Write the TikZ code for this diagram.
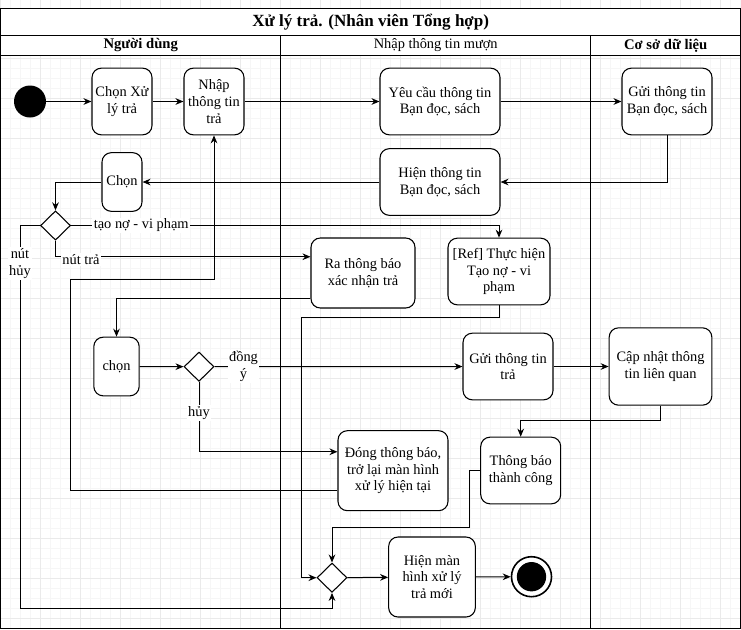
\documentclass[tikz,border=0pt]{standalone}
\usepackage{fontspec}
\setmainfont{Liberation Serif}
\usetikzlibrary{arrows.meta,shapes.geometric}

\definecolor{gridminor}{HTML}{F6F6F6}
\definecolor{gridmajor}{HTML}{EAEAEA}

\begin{document}
\begin{tikzpicture}[
  x=0.75pt, y=-0.75pt,
  every node/.style={font=\fontsize{10.8pt}{12.6pt}\selectfont},
  actbox/.style={
    rectangle, rounded corners=7pt,
    draw=black, line width=0.8pt, fill=white,
    align=center, inner sep=1pt
  },
  decision/.style={
    diamond, draw=black, line width=0.8pt, fill=white,
    minimum width=22.5pt, minimum height=22pt, inner sep=0pt
  },
  lanetext/.style={font=\fontsize{10.8pt}{12.6pt}\selectfont},
  lbl/.style={fill=white, inner sep=1pt, align=center},
  flow/.style={
    -{Stealth[length=6pt,width=5pt]}, line width=0.75pt, black
  },
]
\useasboundingbox (0,0) rectangle (741,629);

% --- Grid ---
\foreach \i in {0,...,74}
  \draw[gridminor, line width=0.5pt] (\i*10+0.7,0) -- (\i*10+0.7,629);
\foreach \j in {0,...,62}
  \draw[gridminor, line width=0.5pt] (0,\j*10+8.3) -- (741,\j*10+8.3);
\foreach \i in {0,...,18}
  \draw[gridmajor, line width=0.6pt] (\i*40+0.7,0) -- (\i*40+0.7,629);
\foreach \j in {0,...,15}
  \draw[gridmajor, line width=0.6pt] (0,\j*40+18.3) -- (741,\j*40+18.3);

% --- Swimlanes ---
\fill[white] (0.7,8.3) rectangle (740.7,55.3);
\draw[line width=0.8pt] (0.7,8.3) rectangle (740.7,628.3);
\draw[line width=0.8pt] (0.7,35.3) -- (740.7,35.3);
\draw[line width=0.8pt] (0.7,55.3) -- (740.7,55.3);
\draw[line width=0.8pt] (280.7,35.3) -- (280.7,628.3);
\draw[line width=0.8pt] (590.7,35.3) -- (590.7,628.3);

\node[font=\fontsize{12.8pt}{14pt}\selectfont\bfseries] (title) at (370.7,21.8)
  {Xử lý trả. (Nhân viên Tổng hợp)};
\node[lanetext, font=\fontsize{11pt}{13pt}\selectfont\bfseries] (lane1) at (140.7,45.3) {Người dùng};
\node[lanetext] (lane2) at (435.7,45.3) {Nhập thông tin mượn};
\node[lanetext, font=\fontsize{11pt}{13pt}\selectfont\bfseries] (lane3) at (665.7,45.3) {Cơ sở dữ liệu};

% --- Nodes ---
\node[circle, fill=black, minimum size=24pt, inner sep=0pt] (start) at (30,101.5) {};
\node[actbox, minimum width=45pt, minimum height=50pt] (chonxl) at (122,101.5) {Chọn Xử\\lý trả};
\node[actbox, minimum width=45pt, minimum height=50pt] (nhaptt) at (214,101.5) {Nhập\\thông tin\\trả};
\node[actbox, minimum width=90pt, minimum height=50pt] (yeucau) at (440,101.5) {Yêu cầu thông tin\\Bạn đọc, sách};
\node[actbox, minimum width=67.5pt, minimum height=50pt] (guibd) at (667,101.5) {Gửi thông tin\\Bạn đọc, sách};
\node[actbox, minimum width=90pt, minimum height=50pt] (hienbd) at (440,182) {Hiện thông tin\\Bạn đọc, sách};
\node[actbox, minimum width=30pt, minimum height=44pt] (chon1) at (122,182) {Chọn};
\node[decision] (dec1) at (55.5,225.5) {};
\node[actbox, minimum width=78pt, minimum height=52.5pt] (ra) at (363,273) {Ra thông báo\\xác nhận trả};
\node[actbox, minimum width=76.5pt, minimum height=50pt] (ref) at (499,271.5) {[Ref] Thực hiện\\Tạo nợ - vi\\phạm};
\node[actbox, minimum width=34pt, minimum height=44pt] (chon2) at (116.5,366.5) {chọn};
\node[decision] (dec2) at (199,366.7) {};
\node[actbox, minimum width=67.5pt, minimum height=50pt] (guitra) at (508,366.5) {Gửi thông tin\\trả};
\node[actbox, minimum width=77pt, minimum height=58pt] (capnhat) at (660.5,366.5) {Cập nhật thông\\tin liên quan};
\node[actbox, minimum width=82.5pt, minimum height=60pt] (dong) at (393,470.7) {Đóng thông báo,\\trở lại màn hình\\xử lý hiện tại};
\node[actbox, minimum width=60pt, minimum height=50pt] (tbtc) at (520.7,470.5) {Thông báo\\thành công};
\node[decision] (dec3) at (332,577.7) {};
\node[actbox, minimum width=65pt, minimum height=60pt] (hienmh) at (432,577) {Hiện màn\\hình xử lý\\trả mới};
\node[circle, draw=black, line width=1.2pt, fill=white, minimum size=30pt, inner sep=0pt,
  path picture={\fill[black] (path picture bounding box.center) circle (11pt);}] (endnode) at (531.5,576.7) {};

% --- Connectors ---
\draw[flow] (start) -- (chonxl);
\draw[flow] (chonxl) -- (nhaptt);
\draw[flow] (nhaptt) -- (yeucau);
\draw[flow] (yeucau) -- (guibd);
\draw[flow] (guibd.south) |- (hienbd.east);
\draw[flow] (hienbd) -- (chon1);
\draw[flow] (chon1.west) -| (dec1.north);

% branches of the first choice
\draw[flow] (dec1.east) -| node[lbl, pos=0.082] {tạo nợ - vi phạm} (ref.north);
\draw[flow] (dec1.south) |- node[lbl, pos=0.55, yshift=-2pt] {nút trả} ([yshift=12.2pt]ra.west);
\draw[flow] (dec1.west) -| node[lbl, pos=0.55] {nút\\hủy} (20,608) -| (dec3.south);

\draw[flow] ([yshift=7.5pt]ra.south west) -| (chon2.north);
\draw[flow] (chon2) -- (dec2);

% branches of the second choice
\draw[flow] (dec2) -- node[lbl, pos=0.117] {đồng\\ý} (guitra);
\draw[flow] (dec2.south) |- node[lbl, pos=0.22] {hủy} ([yshift=14.2pt]dong.west);

\draw[flow] (guitra) -- (capnhat);
\draw[flow] (capnhat.south) -- ++(0,14.3) -| (tbtc.north);
\draw[flow] (tbtc.west) -- ++(-10.7,0) -- ++(0,56.5) -| (dec3.north);
\draw[flow] ([yshift=-15pt]dong.west) -| (70,279) -| (nhaptt.south);
\draw[flow] (ref.south) |- (301,317) |- (dec3.west);
\draw[flow] (dec3) -- (hienmh);
\draw[flow] (hienmh) -- (endnode);

\end{tikzpicture}
\end{document}
